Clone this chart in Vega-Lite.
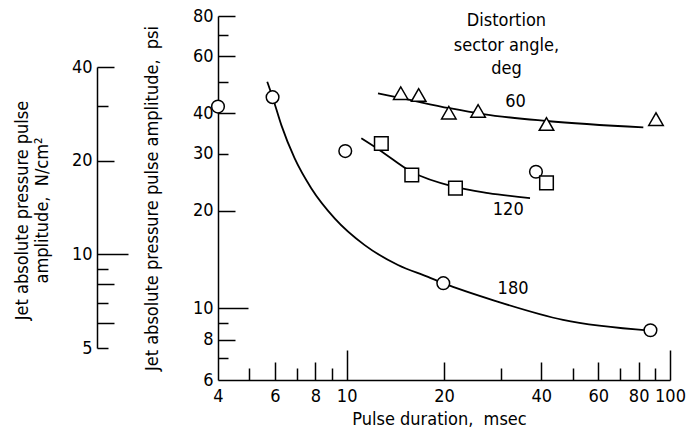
{
  "$schema": "https://vega.github.io/schema/vega-lite/v6.json",
  "width": 452,
  "height": 364,
  "autosize": "none",
  "padding": {"left": 218, "top": 16, "right": 18, "bottom": 55},
  "background": "white",
  "config": {
    "view": {"stroke": null},
    "font": "DejaVu Sans Condensed",
    "text": {"font": "DejaVu Sans Condensed", "fontSize": 18, "color": "black"},
    "axis": {
      "grid": false,
      "domainColor": "black",
      "domainWidth": 1.5,
      "tickColor": "black",
      "tickWidth": 1.5,
      "labelColor": "black",
      "titleColor": "black",
      "labelFont": "DejaVu Sans Condensed",
      "titleFont": "DejaVu Sans Condensed",
      "labelFontSize": 18,
      "titleFontSize": 18,
      "titleFontWeight": "normal",
      "labelFlush": false,
      "labelOverlap": false
    }
  },
  "datasets": {
    "points": [
      {"t": 4, "p": 42, "angle": "180"},
      {"t": 5.9, "p": 44.9, "angle": "180"},
      {"t": 9.9, "p": 30.6, "angle": "180"},
      {"t": 19.9, "p": 11.95, "angle": "180"},
      {"t": 87, "p": 8.55, "angle": "180"},
      {"t": 38.5, "p": 26.4, "angle": "180"},
      {"t": 12.8, "p": 32.3, "angle": "120"},
      {"t": 15.9, "p": 25.8, "angle": "120"},
      {"t": 21.7, "p": 23.5, "angle": "120"},
      {"t": 41.5, "p": 24.4, "angle": "120"},
      {"t": 14.7, "p": 46.2, "angle": "60"},
      {"t": 16.7, "p": 45.6, "angle": "60"},
      {"t": 20.7, "p": 40.2, "angle": "60"},
      {"t": 25.5, "p": 40.7, "angle": "60"},
      {"t": 41.5, "p": 37.1, "angle": "60"},
      {"t": 90.5, "p": 38.4, "angle": "60"}
    ],
    "curves": [
      {"t": 12.5, "p": 46.1, "angle": "60"},
      {"t": 14.6, "p": 44.7, "angle": "60"},
      {"t": 20.8, "p": 41.5, "angle": "60"},
      {"t": 26.4, "p": 39.8, "angle": "60"},
      {"t": 41.5, "p": 37.9, "angle": "60"},
      {"t": 82.7, "p": 36.2, "angle": "60"},
      {"t": 11.1, "p": 33.5, "angle": "120"},
      {"t": 12.65, "p": 30.8, "angle": "120"},
      {"t": 15.86, "p": 26.4, "angle": "120"},
      {"t": 21.6, "p": 23.7, "angle": "120"},
      {"t": 27.4, "p": 22.7, "angle": "120"},
      {"t": 36.9, "p": 21.9, "angle": "120"},
      {"t": 5.68, "p": 50.1, "angle": "180"},
      {"t": 5.9, "p": 44.9, "angle": "180"},
      {"t": 6.28, "p": 36.8, "angle": "180"},
      {"t": 6.9, "p": 29.1, "angle": "180"},
      {"t": 7.77, "p": 23.5, "angle": "180"},
      {"t": 9.18, "p": 18.96, "angle": "180"},
      {"t": 11.37, "p": 15.67, "angle": "180"},
      {"t": 14.41, "p": 13.6, "angle": "180"},
      {"t": 17.85, "p": 12.5, "angle": "180"},
      {"t": 19.9, "p": 11.95, "angle": "180"},
      {"t": 29.1, "p": 10.5, "angle": "180"},
      {"t": 46.7, "p": 9.2, "angle": "180"},
      {"t": 86.7, "p": 8.52, "angle": "180"}
    ],
    "labels": [
      {"t": 33.3, "p": 43.5, "text": "60"},
      {"t": 31.6, "p": 20.1, "text": "120"},
      {"t": 32.7, "p": 11.5, "text": "180"}
    ],
    "ltitle": [
      {"t": 31.2, "p": 77.2, "text": "Distortion"},
      {"t": 31.2, "p": 64.6, "text": "sector angle,"},
      {"t": 31.2, "p": 54.9, "text": "deg"}
    ],
    "ncm": [{"n": 5}, {"n": 40}]
  },
  "layer": [
    {
      "layer": [
        {
          "data": {"name": "curves"},
          "mark": {"type": "line", "interpolate": "monotone", "color": "black", "strokeWidth": 1.8},
          "encoding": {
            "x": {"field": "t", "type": "quantitative", "scale": {"type": "log", "domain": [4, 100], "nice": false},
              "axis": {"orient": "bottom", "values": [4, 6, 8, 10, 20, 40, 60, 80, 100], "format": "d", "ticks": false, "labelPadding": 7,
                "title": "Pulse duration,\u00a0 msec", "titleX": 221, "titleY": 39, "titleBaseline": "middle"}},
            "y": {"field": "p", "type": "quantitative", "scale": {"type": "log", "domain": [6, 80], "nice": false},
              "axis": {"orient": "left", "values": [6, 8, 10, 20, 30, 40, 60, 80], "format": "d", "ticks": false, "labelPadding": 5,
                "title": "Jet absolute pressure pulse amplitude,\u00a0 psi", "titleX": -66, "titleBaseline": "middle"}},
            "detail": {"field": "angle", "type": "nominal"}
          }
        },
        {
          "data": {"name": "points"},
          "mark": {"type": "point", "filled": false, "stroke": "black", "strokeWidth": 1.5, "fill": "white", "opacity": 1},
          "encoding": {
            "x": {"field": "t", "type": "quantitative",
              "axis": {"orient": "bottom", "values": [10, 100], "labels": false, "domain": false, "title": null, "tickSize": -30}},
            "y": {"field": "p", "type": "quantitative",
              "axis": {"orient": "left", "values": [10], "labels": false, "domain": false, "title": null, "tickSize": -30}},
            "shape": {"field": "angle", "type": "nominal", "scale": {"domain": ["60", "120", "180"], "range": ["triangle-up", "square", "circle"]}, "legend": null},
            "size": {"field": "angle", "type": "nominal", "scale": {"domain": ["60", "120", "180"], "range": [210, 160, 170]}, "legend": null}
          }
        },
        {
          "data": {"name": "labels"},
          "mark": {"type": "text", "align": "center", "baseline": "middle", "fontSize": 18},
          "encoding": {
            "x": {"field": "t", "type": "quantitative",
              "axis": {"orient": "bottom", "values": [6, 8, 20, 40, 60, 80], "labels": false, "domain": false, "title": null, "tickSize": -18}},
            "y": {"field": "p", "type": "quantitative",
              "axis": {"orient": "left", "values": [80, 60, 40, 20, 8], "labels": false, "domain": false, "title": null, "tickSize": -17}},
            "text": {"field": "text"}
          }
        },
        {
          "data": {"name": "ltitle"},
          "mark": {"type": "text", "align": "center", "baseline": "middle", "fontSize": 18},
          "encoding": {
            "x": {"field": "t", "type": "quantitative",
              "axis": {"orient": "bottom", "values": [5, 7, 9, 30, 50, 70, 90], "labels": false, "domain": false, "title": null, "tickSize": -12}},
            "y": {"field": "p", "type": "quantitative",
              "axis": {"orient": "left", "values": [70, 50, 30, 9, 7], "labels": false, "domain": false, "title": null, "tickSize": -10}},
            "text": {"field": "text"}
          }
        }
      ],
      "resolve": {"axis": {"x": "independent", "y": "independent"}}
    },
    {
      "data": {"name": "ncm"},
      "layer": [
        {
          "mark": {"type": "point", "opacity": 0},
          "encoding": {
            "y": {"field": "n", "type": "quantitative", "scale": {"type": "log", "domain": [5, 40], "range": [332, 51], "nice": false},
              "axis": {"orient": "left", "offset": 121, "values": [5, 10, 20, 40], "format": "d", "ticks": false, "labelPadding": 5,
                "title": ["Jet absolute pressure pulse", "amplitude,\u00a0 N/cm²"], "titleX": -75, "titleY": 194, "titleBaseline": "middle"}}
          }
        },
        {
          "mark": {"type": "point", "opacity": 0},
          "encoding": {
            "y": {"field": "n", "type": "quantitative",
              "axis": {"orient": "left", "offset": 121, "values": [10], "labels": false, "domain": false, "title": null, "tickSize": -31}}
          }
        },
        {
          "mark": {"type": "point", "opacity": 0},
          "encoding": {
            "y": {"field": "n", "type": "quantitative",
              "axis": {"orient": "left", "offset": 121, "values": [40, 20, 8, 6], "labels": false, "domain": false, "title": null, "tickSize": -17}}
          }
        },
        {
          "mark": {"type": "point", "opacity": 0},
          "encoding": {
            "y": {"field": "n", "type": "quantitative",
              "axis": {"orient": "left", "offset": 121, "values": [30, 9, 7, 5], "labels": false, "domain": false, "title": null, "tickSize": -11}}
          }
        }
      ],
      "resolve": {"axis": {"y": "independent"}}
    }
  ],
  "resolve": {"scale": {"y": "independent"}, "axis": {"y": "independent"}}
}
